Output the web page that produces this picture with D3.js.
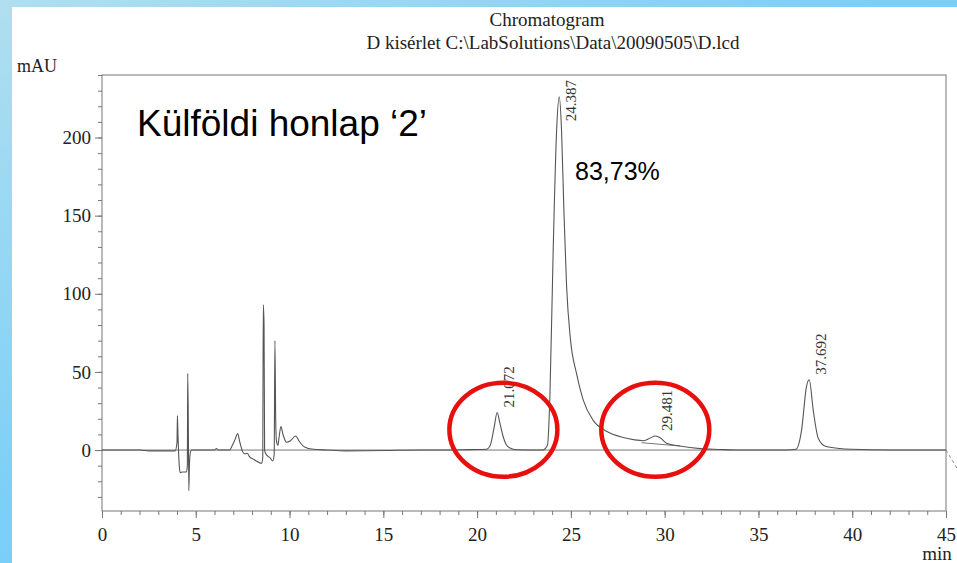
<!DOCTYPE html>
<html>
<head>
<meta charset="utf-8">
<script src="https://cdn.jsdelivr.net/npm/d3@7"></script>
<style>
    body { margin: 0; background: #fff; }
    svg { display: block; }
</style>
</head>
<body>
<svg id="chart"></svg>
<script>
// trace (time in min, signal in mAU)
const traceTime = [0, 2.0, 2.5, 3.9, 4.0, 4.02, 4.05, 4.12, 4.17, 4.3, 4.5, 4.55, 4.57, 4.6, 4.63, 4.66, 4.72, 4.8,
    6.0, 6.1, 6.2, 6.8, 6.95, 7.1, 7.23, 7.35, 7.5, 7.62, 7.75, 7.85, 8.1, 8.5, 8.57, 8.6, 8.64, 8.67, 8.72, 8.85,
    8.96, 9.1, 9.18, 9.22, 9.26, 9.3, 9.38, 9.44, 9.54, 9.65, 9.84, 10.05, 10.32, 10.55, 10.8, 11.27, 12, 13, 15, 17,
    18, 19.6, 20.5, 20.7, 20.9, 21.07, 21.2, 21.39, 21.55, 21.75, 22.1, 23.5, 23.75, 23.88, 24.06, 24.24, 24.38,
    24.5, 24.63, 24.77, 24.98, 25.3, 25.66, 26.19, 26.9, 27.79, 28.4, 28.9, 29.2, 29.5, 29.8, 30.1, 30.8, 31.9,
    32.9, 34, 36.5, 37.0, 37.3, 37.56, 37.71, 37.92, 38.19, 38.54, 39.34, 40.0, 42, 45];
const traceMAU = [0, 0, -0.5, -0.5, 5, 22, 10, -10, -14.5, -14, -14, -10, 49, 20, -26, -10, -1, 0,
    0, 1, 0, 0, 3, 7, 10.5, 5, -1, -2.5, -2, -4, -6, -8.5, -5, 93, 80, 0, -2, -4,
    -5, -7, -3, 70, 20, 6, 3, 8, 15, 10, 5, 6, 9, 5, 2, 0.5, 0, -0.5, -0.3, 0,
    0, 0.3, 0.5, 3, 14, 24, 18, 8.5, 3.5, 1.3, 0.2, 0, 3, 34, 130, 205, 226,
    205, 152, 105, 70.5, 49, 32, 19, 12, 8, 6.5, 6, 7.5, 9, 7.5, 4.3, 2.6, 0.9,
    0.4, 0, 0, 0.5, 12.8, 40.6, 45, 25.6, 7.5, 2.6, 1, 0.5, 0, 0];

// integration baselines drawn by the software
const baseTime = [[0, 45], [28.77, 30.81]];
const baseMAU = [[0, 0], [4.7, 2.6]];

// retention time labels
const peakTimes = [21.072, 24.387, 29.481, 37.692];
const peakHeights = [24, 226, 9, 45];
const peakLabels = ['21.072', '24.387', '29.481', '37.692'];

// red hand-drawn circles (centre in data units)
const circleTimes = [21.4, 29.5];
const circleMAU = [13, 13];

const xMajor = d3.range(0, 46, 5);
const xMinor = d3.range(0, 46, 1);
const yMajor = [0, 50, 100, 150, 200];
const yMinor = d3.range(-30, 241, 10);

const width = 957, height = 563;
const svg = d3.select('#chart').attr('width', width).attr('height', height);

const x = d3.scaleLinear().domain([0, 45]).range([102, 946]);
const y = d3.scaleLinear().domain([-39, 240]).range([511, 75]);

// blue slide frame
const defs = svg.append('defs');
const grad = defs.append('linearGradient').attr('id', 'bg')
    .attr('x1', 0).attr('y1', 0).attr('x2', 1).attr('y2', 1);
grad.append('stop').attr('offset', '0%').attr('stop-color', '#b0dfef');
grad.append('stop').attr('offset', '45%').attr('stop-color', '#7ccff7');
grad.append('stop').attr('offset', '100%').attr('stop-color', '#63c7fc');
svg.append('rect').attr('width', width).attr('height', height).attr('fill', 'url(#bg)');
svg.append('rect').attr('x', 12).attr('y', 7).attr('width', width - 12).attr('height', height - 7).attr('fill', '#fff');

const serif = '"Liberation Serif", "DejaVu Serif", serif';
const sans = '"Liberation Sans", Arial, sans-serif';

// titles
svg.append('text').attr('x', 547).attr('y', 26).attr('text-anchor', 'middle')
    .style('font-family', serif).style('font-size', '19px').attr('fill', '#222')
    .text('Chromatogram');
svg.append('text').attr('x', 553).attr('y', 49).attr('text-anchor', 'middle')
    .style('font-family', serif).style('font-size', '19px').attr('fill', '#222')
    .text('D kisérlet C:\\LabSolutions\\Data\\20090505\\D.lcd');

svg.append('text').attr('x', 17).attr('y', 72)
    .style('font-family', serif).style('font-size', '18px').attr('fill', '#222').text('mAU');
svg.append('text').attr('x', 937).attr('y', 560).attr('text-anchor', 'middle')
    .style('font-family', serif).style('font-size', '19px').attr('fill', '#222').text('min');

// axes
const axisColor = '#777';
const gx = svg.append('g').attr('transform', `translate(0,${y.range()[0]})`);
gx.call(d3.axisBottom(x).tickValues(xMinor).tickSize(4).tickFormat(''));
gx.append('g').call(d3.axisBottom(x).tickValues(xMajor).tickSize(7).tickFormat(d3.format('d')));

const gy = svg.append('g').attr('transform', `translate(${x.range()[0]},0)`);
gy.call(d3.axisLeft(y).tickValues(yMinor).tickSize(4).tickFormat(''));
gy.append('g').call(d3.axisLeft(y).tickValues(yMajor).tickSize(7).tickFormat(d3.format('d')));

svg.selectAll('.domain').remove();
svg.selectAll('.tick line').attr('stroke', axisColor);
svg.selectAll('.tick text').style('font-family', serif).style('font-size', '19px').attr('fill', '#222');
gx.selectAll('.tick text').attr('dy', '1.05em');
gy.selectAll('.tick text').attr('dx', '-1px');

// plot frame
svg.append('rect')
    .attr('x', x(0)).attr('y', y(240))
    .attr('width', x(45) - x(0)).attr('height', y(-39) - y(240))
    .attr('fill', 'none').attr('stroke', axisColor).attr('stroke-width', 1);

// baselines
const line = d3.line().x(d => x(d[0])).y(d => y(d[1]));
baseTime.forEach((t, i) => {
    svg.append('path')
        .attr('d', line(t.map((v, j) => [v, baseMAU[i][j]])))
        .attr('fill', 'none').attr('stroke', '#777').attr('stroke-width', 1);
});

// chromatogram trace, smoothed without overshoot
const traceLine = d3.line().x(d => x(d[0])).y(d => y(d[1])).curve(d3.curveMonotoneX);
const pts = traceTime.map((t, i) => [t, traceMAU[i]]);
svg.append('path')
    .attr('d', traceLine(pts))
    .attr('fill', 'none').attr('stroke', '#555').attr('stroke-width', 1.1)
    .attr('stroke-linejoin', 'round');

// short dashed drop past the end of the run
svg.append('path')
    .attr('d', line([[45, 0], [45.6, -12]]))
    .attr('fill', 'none').attr('stroke', '#888').attr('stroke-dasharray', '3,3');

// retention time labels, rotated
peakTimes.forEach((t, i) => {
    const lbl = svg.append('text')
        .style('font-family', serif).style('font-size', '15px').attr('fill', '#333')
        .text(peakLabels[i]);
    const len = lbl.node().getComputedTextLength();
    let start = y(peakHeights[i]) - 5;
    if (start - len < 80) start = 80 + len;
    lbl.attr('transform', `translate(${x(t) + 17},${start}) rotate(-90)`);
});

// slide annotations
svg.append('text').attr('x', 137).attr('y', 136)
    .style('font-family', sans).style('font-size', '37px').attr('fill', '#000')
    .text('Külföldi honlap ‘2’');
svg.append('text').attr('x', 575).attr('y', 180)
    .style('font-family', sans).style('font-size', '25px').attr('fill', '#000')
    .text('83,73%');

svg.selectAll('ellipse.mark')
    .data(circleTimes.map((t, i) => [t, circleMAU[i]]))
    .join('ellipse')
    .attr('class', 'mark')
    .attr('cx', d => x(d[0])).attr('cy', d => y(d[1]))
    .attr('rx', 54).attr('ry', 47)
    .attr('fill', 'none').attr('stroke', '#e8100f').attr('stroke-width', 4.5);
</script>
</body>
</html>
